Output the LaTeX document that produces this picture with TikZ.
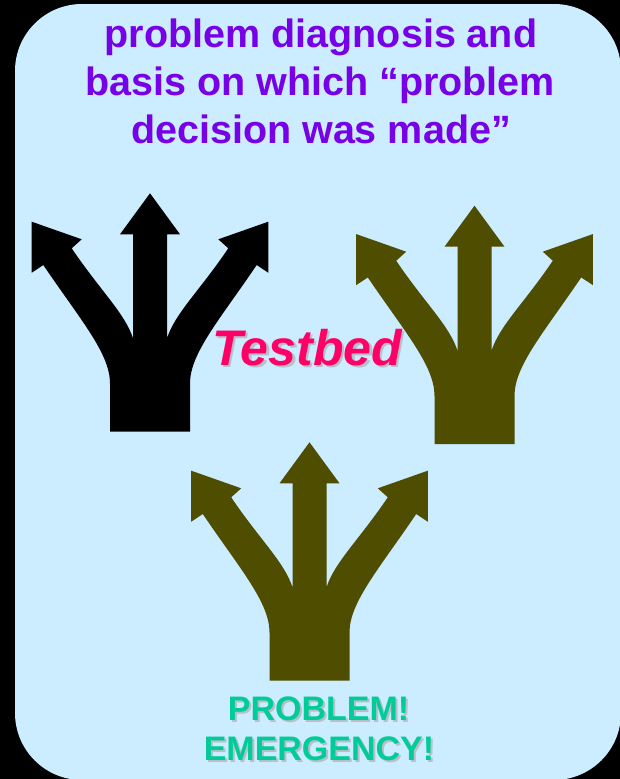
\documentclass[tikz,border=0pt]{standalone}
\usepackage{fontspec}
\setmainfont{Liberation Sans}
\definecolor{bgblue}{RGB}{204,236,255}
\definecolor{titlepurple}{RGB}{119,0,230}
\definecolor{olivearrow}{RGB}{78,77,0}
\definecolor{testpink}{RGB}{255,0,102}
\definecolor{emgreen}{RGB}{0,204,153}
\definecolor{shadowgrey}{RGB}{185,190,200}
\newcommand{\shadowed}[3]{\makebox[0pt][l]{\hspace{#1}\raisebox{-#1}{\textcolor{shadowgrey}{#3}}}\textcolor{#2}{#3}}
\tikzset{
  fork/.pic={
    \fill[#1] (0,0) -- (30,41) -- (17,41) -- (17,145)
      .. controls (25,120) and (50,97) .. (78.3,55)
      -- (68.3,46) -- (118.3,28.4) -- (118.3,79.4) -- (106.7,71.7)
      .. controls (70,126) and (40,160) .. (40,190)
      -- (40,238.4) -- (-40,238.4) -- (-40,190)
      .. controls (-40,160) and (-70,126) .. (-106.7,71.7)
      -- (-118.3,79.4) -- (-118.3,28.4) -- (-68.3,46) -- (-78.3,55)
      .. controls (-50,97) and (-25,120) .. (-17,145)
      -- (-17,41) -- (-30,41) -- cycle;
  },
  titletext/.style={anchor=base, inner sep=0pt, text=titlepurple,
    font=\fontsize{39.5}{48}\selectfont\bfseries},
  testtext/.style={anchor=base, inner sep=0pt,
    font=\fontsize{50}{58}\selectfont\bfseries\itshape},
  emtext/.style={anchor=base, inner sep=0pt,
    font=\fontsize{34}{40}\selectfont\bfseries}
}
\begin{document}
\begin{tikzpicture}[x=1pt,y=-1pt]
  \useasboundingbox (0,0) rectangle (620,779);
  \fill[black] (0,0) rectangle (620,779);
  \fill[bgblue, rounded corners=67pt] (15,4) rectangle (621,780);

  \node[titletext] (t1) at (321,47) {problem diagnosis and};
  \node[titletext] (t2) at (320,95) {basis on which “problem};
  \node[titletext] (t3) at (321,143) {decision was made”};

  \pic (fblack) at (150,193.3) {fork=black};
  \pic (fright) at (474.5,205.7) {fork=olivearrow};
  \pic (fbottom) at (309.5,442.3) {fork=olivearrow};

  \node[testtext] (tb) at (307,365) {\shadowed{2.5pt}{testpink}{Testbed}};

  \node[emtext] (p1) at (318.5,720) {\shadowed{2pt}{emgreen}{PROBLEM!}};
  \node[emtext] (p2) at (319,760) {\shadowed{2pt}{emgreen}{EMERGENCY!}};
\end{tikzpicture}
\end{document}
